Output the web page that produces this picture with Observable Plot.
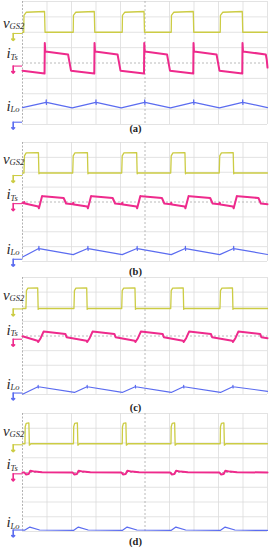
<!DOCTYPE html>
<html><head><meta charset="utf-8">
<script src="https://cdn.jsdelivr.net/npm/d3@7"></script>
<script src="https://cdn.jsdelivr.net/npm/@observablehq/plot@0.6"></script>
<style>
body{margin:0;background:#fff;width:270px;height:550px;overflow:hidden}
#chart svg{display:block;overflow:visible}
</style>
</head><body><div id="chart"></div>
<script>
// grid divisions (oscilloscope: 10 x 8)
const xTicks = [0,1,2,3,4,5,6,7,8,9,10];
const yTicks = [0,1,2,3,4,5,6,7,8];
const captions = ["(a)","(b)","(c)","(d)"];
const labelMain = ["v","i","i"];
const labelSub = ["GS2","Ts","Lo"];

// ---- panel (a) ----  [time (div), level (div)]
const vGS2_a = [[0,6.0],[0.05,6.0],[0.06,7.1],[0.15,7.3],[0.9,7.35],[0.92,6.0],[2.07,6.0],[2.08,7.1],[2.17,7.3],[2.93,7.35],[2.95,6.0],[4.07,6.0],[4.08,7.1],[4.17,7.3],[4.96,7.35],[4.98,6.0],[6.07,6.0],[6.08,7.1],[6.17,7.3],[6.97,7.35],[6.99,6.0],[8.07,6.0],[8.08,7.1],[8.17,7.3],[8.97,7.35],[8.99,6.0],[10,6.0]];
const iTs_a = [[0,3.5],[0.9,3.31],[0.91,5.3],[0.93,4.75],[1.86,4.56],[1.9,4.2],[1.98,3.5],[2.93,3.31],[2.94,5.3],[2.96,4.75],[3.88,4.56],[3.92,4.2],[4.0,3.5],[4.96,3.31],[4.97,5.3],[4.99,4.75],[5.9,4.56],[5.94,4.2],[6.02,3.5],[6.97,3.31],[6.98,5.3],[7.0,4.75],[7.92,4.56],[7.96,4.2],[8.04,3.5],[8.97,3.31],[8.98,5.3],[9.0,4.75],[9.93,4.56],[9.97,4.2],[10,3.7]];
const iLo_a = [[0,1.1],[0.96,1.44],[0.97,1.6],[0.975,1.3],[0.98,1.44],[2.03,1.08],[2.99,1.44],[3.0,1.6],[3.005,1.3],[3.01,1.44],[4.03,1.08],[4.98,1.44],[4.99,1.6],[4.995,1.3],[5.0,1.44],[6.04,1.08],[6.98,1.44],[6.99,1.6],[6.995,1.3],[7.0,1.44],[8.04,1.08],[8.98,1.44],[8.99,1.6],[8.995,1.3],[9.0,1.44],[10,1.1]];
const grounds_a = [5.92,3.8,0.15];

// ---- panel (b) ----
const vGS2_b = [[0,5.95],[0.06,5.95],[0.08,7.1],[0.15,7.3],[0.65,7.32],[0.67,5.9],[0.7,5.95],[2.05,5.95],[2.07,7.1],[2.14,7.3],[2.65,7.32],[2.67,5.9],[2.7,5.95],[4.05,5.95],[4.07,7.1],[4.14,7.3],[4.66,7.32],[4.68,5.9],[4.71,5.95],[6.05,5.95],[6.07,7.1],[6.14,7.3],[6.63,7.32],[6.65,5.9],[6.68,5.95],[8.03,5.95],[8.05,7.1],[8.12,7.3],[8.6,7.32],[8.62,5.9],[8.65,5.95],[10,5.95]];
const iTs_b = [[0,3.95],[0.05,3.92],[0.07,4.0],[0.1,3.9],[0.64,3.7],[0.67,3.58],[0.8,4.4],[0.85,4.38],[1.68,4.27],[1.78,3.9],[2.05,3.85],[2.07,3.95],[2.1,3.83],[2.64,3.7],[2.67,3.58],[2.8,4.4],[2.85,4.38],[3.68,4.27],[3.78,3.9],[4.05,3.85],[4.07,3.95],[4.1,3.83],[4.65,3.7],[4.68,3.58],[4.81,4.4],[4.86,4.38],[5.69,4.27],[5.79,3.9],[6.05,3.85],[6.07,3.95],[6.1,3.83],[6.62,3.7],[6.65,3.58],[6.78,4.4],[6.83,4.38],[7.66,4.27],[7.76,3.9],[8.03,3.85],[8.05,3.95],[8.08,3.83],[8.59,3.7],[8.62,3.58],[8.75,4.4],[8.8,4.38],[9.63,4.27],[9.73,3.9],[10,3.85]];
const iLo_b = [[0,0.3],[0.66,0.87],[0.67,1.02],[0.675,0.75],[0.68,0.87],[2.07,0.46],[2.66,0.87],[2.67,1.02],[2.675,0.75],[2.68,0.87],[4.07,0.46],[4.67,0.87],[4.68,1.02],[4.685,0.75],[4.69,0.87],[6.07,0.46],[6.64,0.87],[6.65,1.02],[6.655,0.75],[6.66,0.87],[8.05,0.46],[8.61,0.87],[8.62,1.02],[8.625,0.75],[8.63,0.87],[10,0.47]];
const grounds_b = [5.78,3.89,0.15];

// ---- panel (c) ----
const vGS2_c = [[0,5.88],[0.14,5.88],[0.16,7.1],[0.22,7.27],[0.62,7.29],[0.64,5.82],[0.68,5.88],[2.1,5.88],[2.12,7.1],[2.18,7.27],[2.62,7.29],[2.64,5.82],[2.68,5.88],[4.05,5.88],[4.07,7.1],[4.13,7.27],[4.59,7.29],[4.61,5.82],[4.65,5.88],[6.05,5.88],[6.07,7.1],[6.13,7.27],[6.56,7.29],[6.58,5.82],[6.62,5.88],[8.06,5.88],[8.08,7.1],[8.14,7.27],[8.57,7.29],[8.59,5.82],[8.63,5.88],[10,5.88]];
const iTs_c = [[0,3.98],[0.61,3.68],[0.64,3.6],[0.74,3.85],[0.86,4.3],[1.75,4.14],[1.8,3.92],[2.61,3.68],[2.64,3.6],[2.74,3.85],[2.86,4.3],[3.75,4.14],[3.8,3.92],[4.58,3.68],[4.61,3.6],[4.71,3.85],[4.83,4.3],[5.72,4.14],[5.77,3.92],[6.55,3.68],[6.58,3.6],[6.68,3.85],[6.8,4.3],[7.69,4.14],[7.74,3.92],[8.56,3.68],[8.59,3.6],[8.69,3.85],[8.81,4.3],[9.7,4.14],[9.75,3.92],[10,3.85]];
const iLo_c = [[0,0.02],[0.63,0.53],[0.64,0.62],[0.645,0.45],[0.65,0.53],[2.12,0.14],[2.63,0.53],[2.64,0.62],[2.645,0.45],[2.65,0.53],[4.07,0.14],[4.6,0.53],[4.61,0.62],[4.615,0.45],[4.62,0.53],[6.07,0.14],[6.57,0.53],[6.58,0.62],[6.585,0.45],[6.59,0.53],[8.08,0.14],[8.58,0.53],[8.59,0.62],[8.595,0.45],[8.6,0.53],[10,0.22]];
const grounds_c = [5.85,3.78,0.1];

// ---- panel (d) ----
const vGS2_d = [[0,5.95],[0.1,5.95],[0.11,7.1],[0.15,7.33],[0.26,7.37],[0.28,5.85],[0.34,5.95],[2.08,5.95],[2.09,7.1],[2.13,7.33],[2.24,7.37],[2.26,5.85],[2.32,5.95],[4.07,5.95],[4.08,7.1],[4.12,7.33],[4.22,7.37],[4.24,5.85],[4.3,5.95],[6.06,5.95],[6.07,7.1],[6.11,7.33],[6.21,7.37],[6.23,5.85],[6.29,5.95],[8.07,5.95],[8.08,7.1],[8.12,7.33],[8.22,7.37],[8.24,5.85],[8.3,5.95],[10,5.95]];
const iTs_d = [[0,4.0],[0.08,4.0],[0.14,3.87],[0.25,3.9],[0.32,4.12],[0.5,4.06],[0.8,4.02],[2.05,4.0],[2.11,3.87],[2.22,3.9],[2.29,4.12],[2.47,4.06],[2.77,4.02],[4.04,4.0],[4.1,3.87],[4.21,3.9],[4.28,4.12],[4.46,4.06],[4.76,4.02],[6.03,4.0],[6.09,3.87],[6.2,3.9],[6.27,4.12],[6.45,4.06],[6.75,4.02],[8.04,4.0],[8.1,3.87],[8.21,3.9],[8.28,4.12],[8.46,4.06],[8.76,4.02],[10,4.0]];
const iLo_d = [[0,0.1],[0.1,0.1],[0.3,0.3],[0.7,0.1],[2.08,0.07],[2.28,0.3],[2.68,0.1],[4.07,0.07],[4.27,0.3],[4.67,0.1],[6.06,0.07],[6.26,0.3],[6.66,0.1],[8.07,0.07],[8.27,0.3],[8.67,0.1],[10,0.07]];
const grounds_d = [5.88,3.91,0.1];

const panelsData = [
  {traces:[vGS2_a,iTs_a,iLo_a], grounds:grounds_a},
  {traces:[vGS2_b,iTs_b,iLo_b], grounds:grounds_b},
  {traces:[vGS2_c,iTs_c,iLo_c], grounds:grounds_c},
  {traces:[vGS2_d,iTs_d,iLo_d], grounds:grounds_d}
];

// ---- layout / style ----
const colors = ["#cccc44","#ee2a8c","#5b6cf0"];
const widths = [1.3,2.0,1.2];
const layout = [
  {height:136, top:1, bottom:12, capDy:4,   labelY:[6.59,4.61,1.21]},
  {height:137, top:6, bottom:12, capDy:10,  labelY:[6.89,4.54,0.85]},
  {height:138, top:4, bottom:17, capDy:12.7,labelY:[6.8,4.42,0.72]},
  {height:139, top:2, bottom:19, capDy:10.5,labelY:[6.77,4.58,0.6]}
];
const serif = "'Liberation Serif','DejaVu Serif',serif";
const mainDx = [-19.5,-16,-16];
const subDx = [-13,-12,-12];
const subDy = [3,3.9,3.4];

const root = document.getElementById("chart");
panelsData.forEach((p, k) => {
  const L = layout[k];
  const marks = [
    Plot.ruleX(xTicks.filter(d => d !== 0 && d !== 5), {stroke:"#dcdcdc", strokeWidth:0.8}),
    Plot.ruleY(yTicks.filter(d => d !== 4), {stroke:"#dcdcdc", strokeWidth:0.8}),
    Plot.ruleX([5], {stroke:"#a8a8a8", strokeWidth:0.8, strokeDasharray:"2,2"}),
    Plot.ruleY([4], {stroke:"#a8a8a8", strokeWidth:0.8, strokeDasharray:"2,2"}),
    Plot.ruleX([0], {stroke:"#a0a0a0", strokeWidth:0.8, strokeDasharray:"2,1.5"})
  ];
  p.traces.forEach((tr, j) => {
    marks.push(Plot.line(tr, {x: d => d[0], y: d => d[1], stroke: colors[j], strokeWidth: widths[j], strokeLinejoin:"round"}));
  });
  // ground markers: short lead + downward arrow
  p.grounds.forEach((g, j) => {
    marks.push(Plot.ruleY([g], {x1: -0.38, x2: 0, stroke: colors[j], strokeWidth: 1.1}));
    marks.push(Plot.vector([g], {x: -0.38, y: d => d, rotate: 180, length: 7, anchor: "start", stroke: colors[j], strokeWidth: 1.6}));
  });
  // trace labels
  const lab = [0,1,2].map(j => ({y: L.labelY[j], m: labelMain[j], s: labelSub[j], j}));
  lab.forEach(d => {
    marks.push(Plot.text([d], {y: "y", text: "m", frameAnchor: "left", textAnchor: "start", dx: mainDx[d.j], fontSize: 15, fontStyle: "italic", fontFamily: serif, fill: "#2a2a2a"}));
    marks.push(Plot.text([d], {y: "y", text: "s", frameAnchor: "left", textAnchor: "start", dx: subDx[d.j], dy: subDy[d.j], fontSize: 8.5, fontStyle: "italic", fontFamily: serif, fill: "#2a2a2a"}));
  });
  // caption
  marks.push(Plot.text([captions[k]], {frameAnchor: "bottom", text: d => d, dx: -9.5, dy: L.capDy, lineAnchor: "middle", fontSize: 10.5, fontWeight: "bold", fontFamily: serif, fill: "#222"}));

  const svg = Plot.plot({
    width: 270, height: L.height,
    marginLeft: 22, marginRight: 3, marginTop: L.top, marginBottom: L.bottom,
    x: {domain: [0, 10], axis: null},
    y: {domain: [0, 8], axis: null},
    style: {background: "#fff", overflow: "visible"},
    marks
  });
  root.appendChild(svg);
});
</script>
</body></html>
